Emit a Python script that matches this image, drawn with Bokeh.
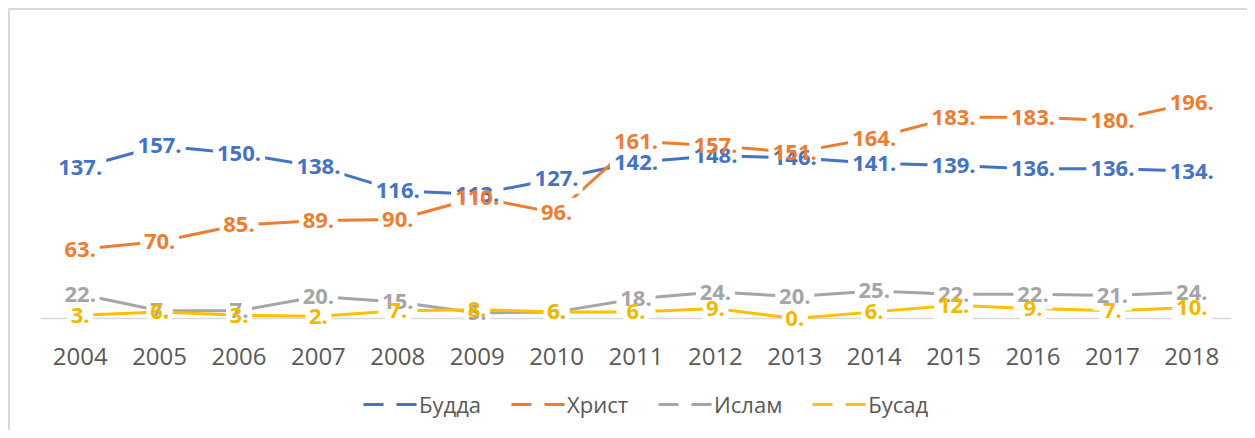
from bokeh.plotting import figure
from bokeh.layouts import column
from bokeh.models import Range1d, FixedTicker, Span, Legend, LegendItem, ColumnDataSource
from bokeh.core.properties import value
from bokeh.embed import file_html
from bokeh.resources import INLINE

years = [2004, 2005, 2006, 2007, 2008, 2009, 2010, 2011, 2012, 2013, 2014, 2015, 2016, 2017, 2018]
budda = [137, 157, 150, 138, 116, 113, 127, 142, 148, 146, 141, 139, 136, 136, 134]
khrist = [63, 70, 85, 89, 90, 110, 96, 161, 157, 151, 164, 183, 183, 180, 196]
islam = [22, 7, 7, 20, 15, 5, 6, 18, 24, 20, 25, 22, 22, 21, 24]
busad = [3, 6, 3, 2, 7, 8, 6, 6, 9, 0, 6, 12, 9, 7, 10]
names = ["Будда", "Христ", "Ислам", "Бусад"]
colors = ["#4472C4", "#ED7D31", "#A5A5A5", "#FFC000"]
label_colors = ["#4472C4", "#ED7D31", "#A5A5A5", "#F2B800"]
series = [budda, khrist, islam, busad]

FONT = "Open Sans"
LBL_SIZE = 22

p = figure(width=1239, height=368, output_backend="svg", toolbar_location=None,
           x_range=Range1d(2003.5, 2018.5), y_range=Range1d(-18.2, 263.6),
           min_border_left=30, min_border_right=18, min_border_top=18,
           min_border_bottom=40)
p.outline_line_color = None
p.xgrid.visible = False
p.ygrid.visible = False
p.yaxis.visible = False
p.styles = {"border-top": "2px solid #d9d9d9", "border-left": "2px solid #d9d9d9"}

xa = p.xaxis[0]
xa.ticker = FixedTicker(ticks=years)
xa.major_label_overrides = {y: str(y) for y in years}
xa.axis_line_color = None
xa.major_tick_line_color = None
xa.minor_tick_line_color = None
xa.major_label_text_font = FONT
xa.major_label_text_font_size = "24px"
xa.major_label_text_color = "#595959"
xa.major_label_standoff = 3

p.add_layout(Span(location=0, dimension="width", line_color="#d9d9d9",
                  line_width=1.5, level="underlay"))

sources = []
for vals in series:
    labels = [f"{v}." for v in vals]
    widths = [(len(t) - 1) * 0.6 * LBL_SIZE + 0.3 * LBL_SIZE + 6 for t in labels]
    src = ColumnDataSource(dict(x=years, y=vals, t=labels, w=widths))
    sources.append(src)

for src, c in zip(sources, colors):
    p.line("x", "y", source=src, line_color=c, line_width=3)

for src in sources:
    p.rect("x", "y", width="w", height=30, width_units="screen", height_units="screen",
           source=src, fill_color="white", line_color=None)

for src, c in zip(sources, label_colors):
    p.text("x", "y", text="t", source=src, text_align="center", text_baseline="middle",
           text_font=value(FONT), text_font_style="bold", text_font_size=f"{LBL_SIZE}px",
           text_color=c)

lp = figure(width=1239, height=54, output_backend="svg", toolbar_location=None,
            x_range=Range1d(0, 1), y_range=Range1d(0, 1),
            min_border_left=0, min_border_right=0, min_border_top=0, min_border_bottom=0)
lp.outline_line_color = None
lp.axis.visible = False
lp.grid.visible = False
lp.styles = {"border-left": "2px solid #d9d9d9"}

items = []
for n, c in zip(names, colors):
    r = lp.line(x=[5, 6], y=[5, 5], line_color=c, line_width=3, line_dash="20 13")
    items.append(LegendItem(label=n, renderers=[r]))

legend = Legend(items=items, orientation="horizontal", location=(323, 11),
                glyph_width=56, glyph_height=20, label_standoff=0, spacing=30,
                border_line_color=None, background_fill_alpha=0,
                label_text_font=FONT, label_text_font_size="22px",
                label_text_color="#595959", margin=0, padding=4)
lp.add_layout(legend, "center")

layout = column(p, lp, spacing=0, margin=(8, 0, 0, 8))
open("out.html", "w").write(file_html(layout, INLINE))
